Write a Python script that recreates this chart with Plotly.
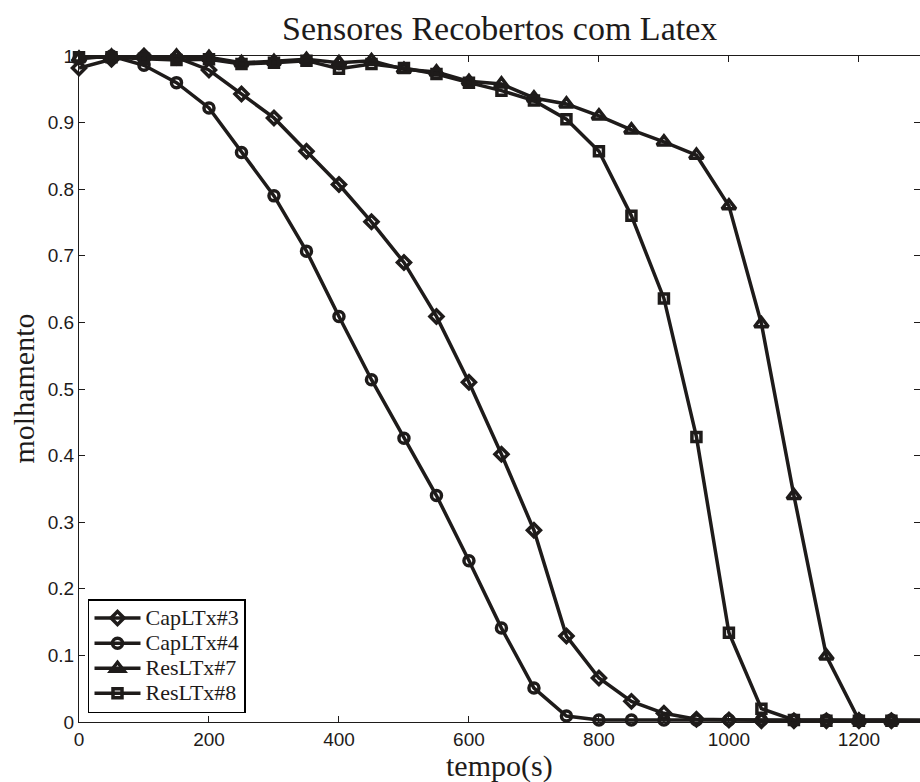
import plotly.graph_objects as go

tempo = [0, 50, 100, 150, 200, 250, 300, 350, 400, 450, 500, 550, 600, 650,
         700, 750, 800, 850, 900, 950, 1000, 1050, 1100, 1150, 1200, 1250, 1300]

cap3 = [0.982, 0.995, 1.0, 0.998, 0.979, 0.943, 0.907, 0.857, 0.807, 0.751,
        0.690, 0.609, 0.510, 0.402, 0.288, 0.129, 0.066, 0.031, 0.013, 0.004,
        0.003, 0.002, 0.002, 0.002, 0.002, 0.002, 0.002]
cap4 = [0.996, 1.0, 0.986, 0.960, 0.922, 0.855, 0.790, 0.707, 0.609, 0.514,
        0.426, 0.340, 0.242, 0.141, 0.051, 0.009, 0.003, 0.003, 0.003, 0.003,
        0.003, 0.003, 0.003, 0.003, 0.003, 0.003, 0.003]
res7 = [0.997, 1.0, 1.0, 1.0, 0.998, 0.990, 0.992, 0.995, 0.990, 0.993,
        0.980, 0.976, 0.962, 0.958, 0.937, 0.928, 0.910, 0.889, 0.871, 0.851,
        0.775, 0.598, 0.340, 0.099, 0.003, 0.002, 0.002]
res8 = [0.998, 0.998, 0.996, 0.994, 0.995, 0.988, 0.990, 0.993, 0.981, 0.988,
        0.982, 0.973, 0.960, 0.948, 0.933, 0.905, 0.857, 0.760, 0.636, 0.428,
        0.134, 0.020, 0.003, 0.002, 0.002, 0.002, 0.002]

names = ["CapLTx#3", "CapLTx#4", "ResLTx#7", "ResLTx#8"]
series = [cap3, cap4, res7, res8]
symbols = ["diamond-open", "circle-open", "triangle-up-open", "square-open"]
sizes = [10, 10, 12, 9]

xticks = [0, 200, 400, 600, 800, 1000, 1200]
yticks = [0, 0.1, 0.2, 0.3, 0.4, 0.5, 0.6, 0.7, 0.8, 0.9, 1]
yticktext = ["0", "0.1", "0.2", "0.3", "0.4", "0.5", "0.6", "0.7", "0.8", "0.9", "1"]

INK = "#1e1b1a"

fig = go.Figure()
for name, ys, sym, sz in zip(names, series, symbols, sizes):
    fig.add_trace(go.Scatter(
        x=tempo, y=ys, name='<span style="font-size:22px">' + name + '</span>',
        mode="lines+markers",
        line=dict(color=INK, width=3.5),
        marker=dict(symbol=sym, size=sz, color=INK, line=dict(color=INK, width=3.5)),
        cliponaxis=False,
    ))

serif = "Liberation Serif, Times New Roman, serif"
sans = "Liberation Sans, Arial, sans-serif"

fig.update_layout(
    width=920, height=782,
    margin=dict(l=79, r=0, t=56, b=60),
    paper_bgcolor="white", plot_bgcolor="white",
    showlegend=True,
    legend=dict(
        x=0.0107, y=0.0135, xanchor="left", yanchor="bottom",
        bgcolor="white", bordercolor="black", borderwidth=1.5,
        font=dict(family=serif, size=17, color=INK),
        tracegroupgap=0, itemwidth=46,
    ),
    annotations=[
        dict(text="Sensores Recobertos com Latex", xref="paper", yref="paper",
             x=0.5, y=1, yshift=7, xanchor="center", yanchor="bottom",
             showarrow=False, font=dict(family=serif, size=34, color=INK)),
        dict(text="tempo(s)", xref="paper", yref="paper",
             x=0.5, y=0, yshift=-25, xanchor="center", yanchor="top",
             showarrow=False, font=dict(family=serif, size=30, color=INK)),
        dict(text="molhamento", xref="paper", yref="paper",
             x=0, y=0.5, xshift=-38, xanchor="right", yanchor="middle",
             textangle=-90,
             showarrow=False, font=dict(family=serif, size=30, color=INK)),
    ],
)

fig.update_xaxes(
    range=[0, 1294], tickvals=xticks, ticktext=[str(t) for t in xticks],
    ticks="inside", ticklen=6, tickwidth=1, tickcolor=INK,
    showline=True, linecolor=INK, linewidth=1.2, mirror="ticks",
    showgrid=False, zeroline=False,
    tickfont=dict(family=sans, size=19, color=INK),
)
fig.update_yaxes(
    range=[0, 1], tickvals=yticks, ticktext=yticktext,
    ticks="inside", ticklen=6, tickwidth=1, tickcolor=INK,
    showline=True, linecolor=INK, linewidth=1.2, mirror="ticks",
    showgrid=False, zeroline=False,
    tickfont=dict(family=sans, size=19, color=INK),
)

fig.write_html(
    "out.html",
    config={"displayModeBar": False},
    post_script="document.body.style.margin='0px';document.body.style.overflow='hidden';",
)
